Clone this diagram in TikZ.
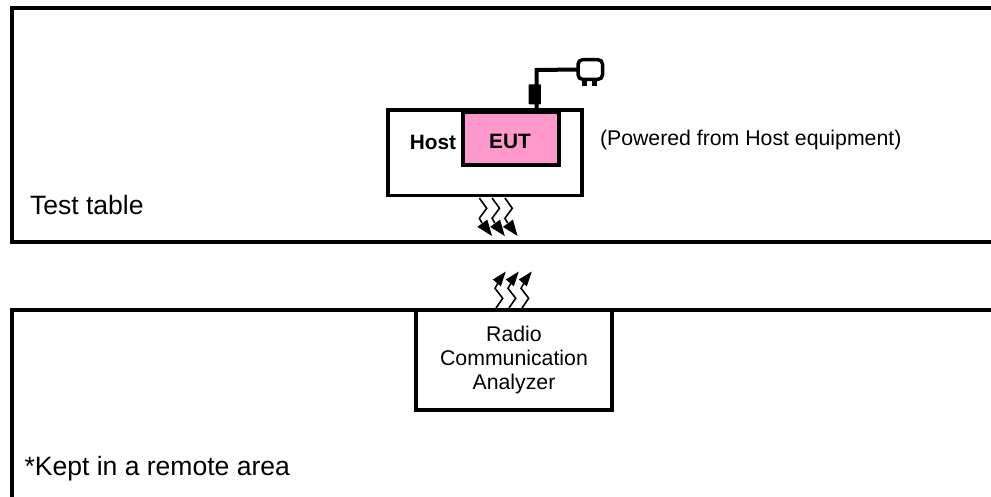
\documentclass[tikz,border=0pt]{standalone}
\usepackage{fontspec}
\setmainfont{Liberation Sans}
\definecolor{eutpink}{HTML}{FF99CC}
\tikzset{
 px/.style={x=0.75pt,y=-0.75pt},
 tableline/.style={draw=black,line width=3.1pt},
 boxed/.style={draw=black,line width=#1,outer sep=0pt,inner sep=0pt,rectangle},
 big/.style={inner sep=0pt,outer sep=0pt,font=\fontsize{19.9pt}{24pt}\selectfont},
 mid/.style={inner sep=0pt,outer sep=0pt,font=\fontsize{15.95pt}{17.8pt}\selectfont},
 midb/.style={inner sep=0pt,outer sep=0pt,font=\fontsize{15.6pt}{17pt}\selectfont\bfseries},
 cable/.style={draw=black,line width=3pt},
 boltline/.style={draw=black,line width=1.2pt},
 bolthead/.style={fill=black,draw=none}
}
\begin{document}
\begin{tikzpicture}[px]
\useasboundingbox (0,0) rectangle (991,496);
\fill[white] (0,0) rectangle (991,496);
\begin{scope}
\clip (0,0) rectangle (991,496);
\coordinate (t1) at (1000,8);
\coordinate (t2) at (12,8);
\coordinate (t3) at (12,242);
\coordinate (t4) at (1000,242);
\draw[tableline] (t1) -- (t2) -- (t3) -- (t4);
\coordinate (b1) at (1000,310);
\coordinate (b2) at (12,310);
\coordinate (b3) at (12,510);
\draw[tableline] (b1) -- (b2) -- (b3);
\end{scope}
% host and EUT
\node[boxed=2.6pt,minimum width=145.5pt,minimum height=64.2pt] (host) at (485.2,152.8) {};
\node[boxed=3pt,fill=eutpink,minimum width=72.7pt,minimum height=39.2pt] (eut) at (511,138.6) {};
\node[midb] (hostlabel) at (433,142.5) {Host};
\node[midb] (eutlabel) at (510,141.5) {EUT};
\node[mid,anchor=west] (powered) at (600,139.5) {(Powered from Host equipment)};
\node[big,anchor=west] (testtable) at (30,205) {Test table};
% cable, ferrite, plug
\node[fill=black,draw=none,outer sep=0pt,inner sep=0pt,rounded corners=0.5pt,minimum width=9.2pt,minimum height=15pt] (ferrite) at (534.8,94.3) {};
\node[draw=black,line width=2.6pt,fill=white,rounded corners=3.5pt,outer sep=0pt,inner sep=0pt,minimum width=18.4pt,minimum height=14.8pt] (plug) at (590.3,69.5) {};
\fill[black] (582.3,78) rectangle (586.8,86);
\fill[black] (592,78) rectangle (596.7,86);
\draw[cable] (536.7,111) coordinate (cablestart) -- (536.7,70) coordinate (cablecorner) -- (plug.west);
% radio analyser
\node[boxed=3pt,fill=white,minimum width=147pt,minimum height=75pt] (radio) at (514,360) {};
\node[mid,align=center] (radiolabel) at (514,360) {Radio\\Communication\\Analyzer};
\node[big,anchor=west] (kept) at (24.5,469) {*Kept in a remote area};
% bolts towards the analyser
\foreach \d in {0,12.8,25.6}{
 \begin{scope}[shift={(\d,0)}]
  \draw[boltline] (479.3,198) -- (486.7,208.3) -- (479.3,218.3) -- (482,223);
  \fill[bolthead] (477.3,226.9) -- (487.3,219.6) -- (492,236) -- cycle;
 \end{scope}
}
\foreach \d in {0,13,26}{
 \begin{scope}[shift={(\d,0)}]
  \draw[boltline] (496,308) -- (502.7,298.3) -- (495,288.3) -- (498,283);
  \fill[bolthead] (492.8,279.5) -- (500.8,286.3) -- (505.8,271.5) -- cycle;
 \end{scope}
}
\end{tikzpicture}
\end{document}
